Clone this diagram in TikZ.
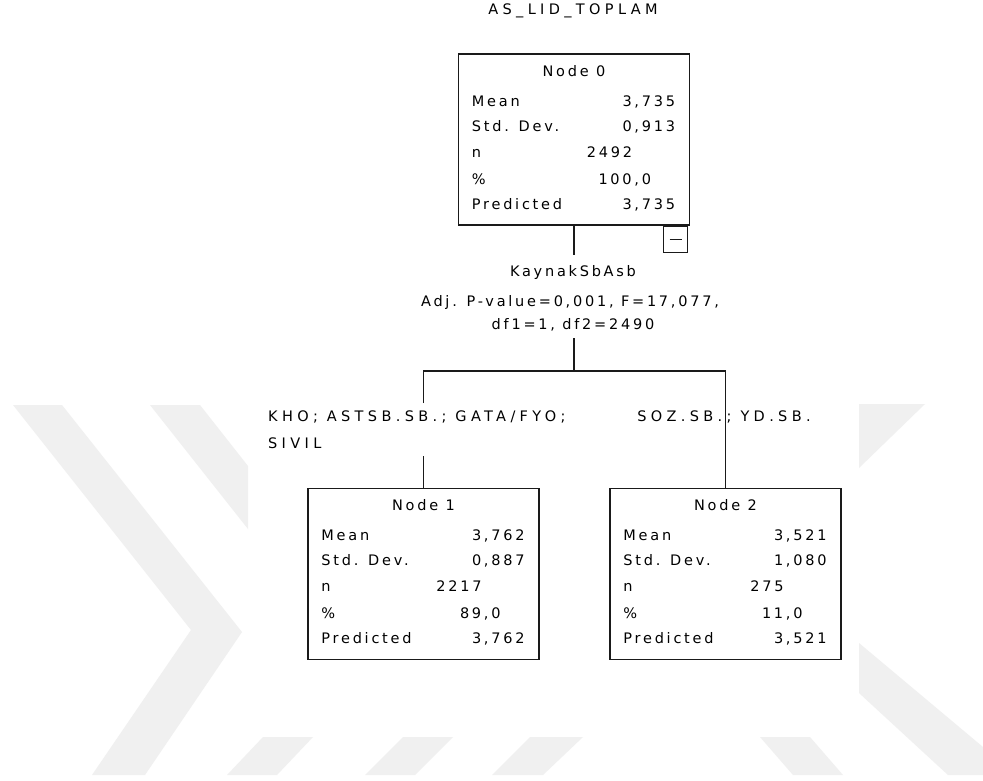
\documentclass[tikz,border=0pt]{standalone}
\usepackage{fontspec}
\setmainfont{DejaVu Sans}
\newfontfamily\spssfont{DejaVu Sans}[LetterSpace=19]
\newfontfamily\spsscaps{DejaVu Sans}[LetterSpace=30]
\usetikzlibrary{positioning,calc}
\definecolor{wmgray}{HTML}{F0F0F0}
\definecolor{treeline}{HTML}{1A1A1A}

\tikzset{
  statbox/.style={draw=treeline, line width=1.5pt, minimum width=231pt,
    minimum height=171pt, inner sep=0pt},
  conn/.style={draw=treeline, line width=1.5pt},
  lbl/.style={inner sep=0pt, font=\spssfont\fontsize{14.5}{18}\selectfont},
  caplbl/.style={inner sep=0pt, font=\spsscaps\fontsize{14.5}{18}\selectfont},
}

% rows of one tree node: box, title, mean, sd, n, pct, predicted
\newcommand{\statrows}[7]{%
  \node[lbl, anchor=base] (#1-title) at ($(#1.north)+(0,23)$) {#2};
  \foreach \lab/\dy/\nm in {Mean/53/mean, Std. Dev./78/sd, n/104/n, \%/131/pct, Predicted/156/pred}
    \node[lbl, anchor=base west] (#1-\nm-l) at ($(#1.north west)+(14,\dy)$) {\lab};
  \node[lbl, anchor=base east] (#1-mean-v) at ($(#1.north east)+(-15,53)$) {#3};
  \node[lbl, anchor=base east] (#1-sd-v) at ($(#1.north east)+(-15,78)$) {#4};
  \node[lbl, anchor=base east] (#1-n-v) at ($(#1.north east)+(-58,104)$) {#5};
  \node[lbl, anchor=base east] (#1-pct-v) at ($(#1.north east)+(-39,131)$) {#6};
  \node[lbl, anchor=base east] (#1-pred-v) at ($(#1.north east)+(-15,156)$) {#7};
}

\begin{document}
\begin{tikzpicture}[x=1pt, y=-1pt]
  \useasboundingbox (0,0) rectangle (983,780);
  \fill[white] (0,0) rectangle (983,780);

  % watermark
  \fill[wmgray] (13,405) -- (62,405) -- (242,632) -- (145,775) -- (92,775) -- (191,630) -- cycle;
  \fill[wmgray] (150,405) -- (200,405) -- (248,466) -- (248,529) -- cycle;
  \fill[wmgray] (263,737) -- (313,737) -- (277,775) -- (227,775) -- cycle;
  \fill[wmgray] (403,737) -- (453,737) -- (415,775) -- (365,775) -- cycle;
  \fill[wmgray] (530,737) -- (583,737) -- (543,775) -- (492,775) -- cycle;
  \fill[wmgray] (760,737) -- (810,737) -- (843,775) -- (793,775) -- cycle;
  \fill[wmgray] (859,404) -- (925,404) -- (859,468) -- cycle;
  \fill[wmgray] (859,643) -- (983,747) -- (983,775) -- (948,775) -- (859,693) -- cycle;

  \node[caplbl] (target) at (573,11) {AS\_LID\_TOPLAM};

  % node 0
  \node[statbox] (n0) at (574,139.5) {};
  \statrows{n0}{Node 0}{3,735}{0,913}{2492}{100,0}{3,735}
  \node[draw=treeline, line width=1.4pt, minimum width=24pt, minimum height=26pt,
    inner sep=0pt, anchor=north east] (n0toggle) at ($(n0.south east)+(-2,0)$) {};
  \draw[conn] ($(n0toggle.center)+(-6,0)$) -- ($(n0toggle.center)+(6,0)$);

  % split
  \coordinate (stem0) at (574,255);
  \draw[conn] (n0.south) -- (stem0);
  \node[lbl, anchor=base] (splitvar) at (573,276) {KaynakSbAsb};
  \node[lbl, anchor=base] (splitp) at (570,306) {Adj. P-value=0,001, F=17,077,};
  \node[lbl, anchor=base] (splitdf) at (573,329) {df1=1, df2=2490};

  % children
  \node[statbox] (n1) at (423.5,574) {};
  \statrows{n1}{Node 1}{3,762}{0,887}{2217}{89,0}{3,762}
  \node[statbox] (n2) at (725.5,574) {};
  \statrows{n2}{Node 2}{3,521}{1,080}{275}{11,0}{3,521}

  \coordinate (forktop) at (574,338);
  \coordinate (fork) at (574,371);
  \draw[conn] (forktop) -- (fork);
  \draw[conn] ($(n1.north |- fork)+(0,32)$) -- (n1.north |- fork) -- (n2.north |- fork) -- (n2.north);
  \draw[conn] (n1.north) -- ++(0,-32);

  \node[caplbl, anchor=base west] (catL1) at (268,421) {KHO; ASTSB.SB.; GATA/FYO;};
  \node[caplbl, anchor=base west] (catL2) at (268,448) {SIVIL};
  \node[caplbl, anchor=base] (catR) at (724,421) {SOZ.SB.; YD.SB.};
\end{tikzpicture}
\end{document}
